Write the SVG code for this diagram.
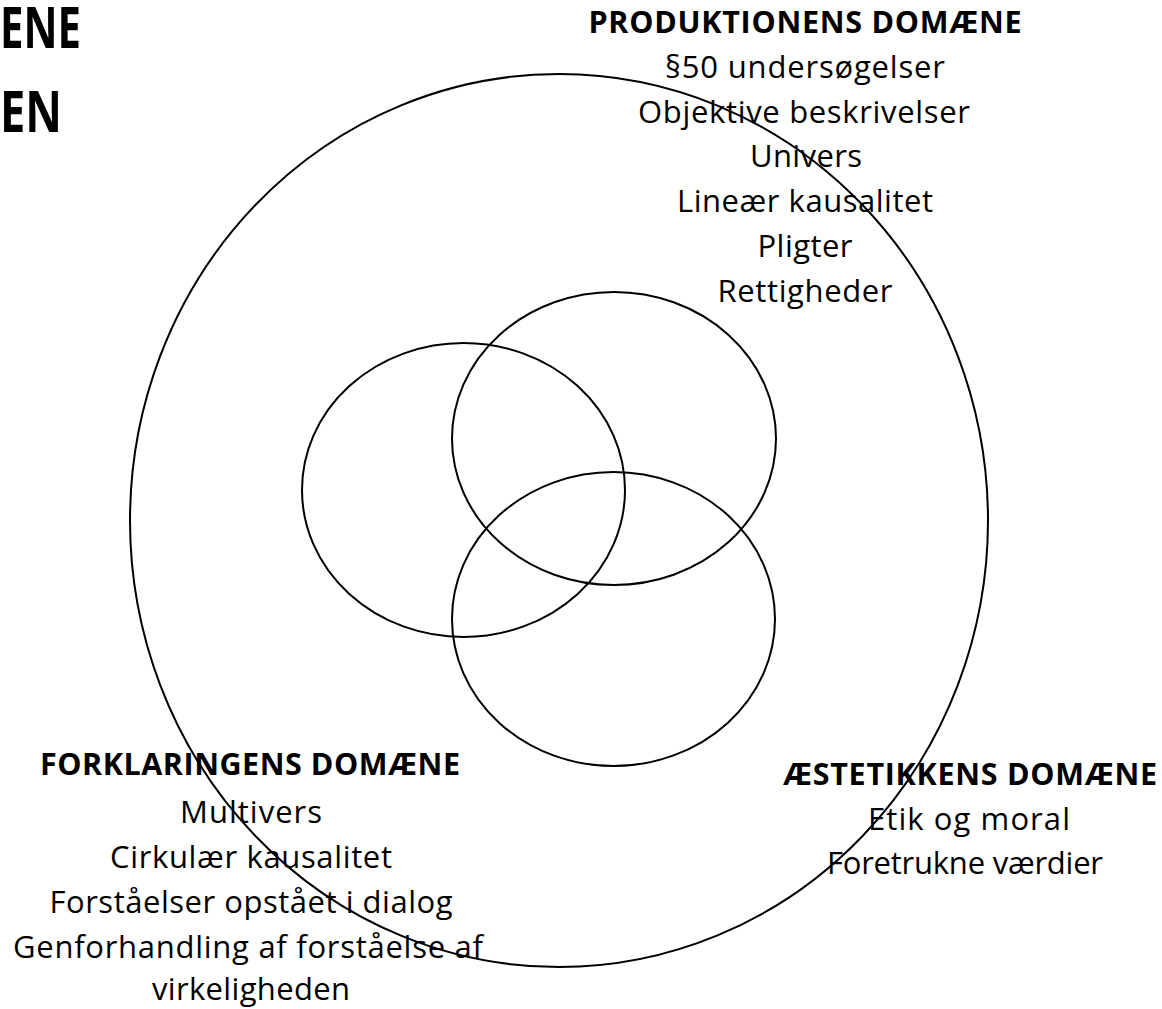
<svg xmlns="http://www.w3.org/2000/svg" width="1162" height="1009" viewBox="0 0 1162 1009">
<style>
.shape{fill:none;stroke:#000;stroke-width:2}
text{font-family:"Open Sans","Noto Sans","Liberation Sans",sans-serif;fill:#000}
.h{font-weight:bold;font-size:30.5px}
.b{font-size:31px}
.big{font-weight:bold;font-size:58px}
</style>
<rect width="1162" height="1009" fill="#fff"/>
<g id="title">
<text class="big" transform="scale(0.75,1)" x="0" y="48" textLength="108" lengthAdjust="spacingAndGlyphs">ENE</text>
<text class="big" transform="scale(0.8,1)" x="0" y="132" textLength="77.5" lengthAdjust="spacingAndGlyphs">EN</text>
</g>
<g id="connectors"></g>
<g id="outer-domain"><ellipse class="shape" cx="559" cy="520.5" rx="429" ry="446.5"/></g>
<g id="ellipse-left"><ellipse class="shape" cx="463.5" cy="490" rx="161.5" ry="147"/></g>
<g id="ellipse-top"><ellipse class="shape" cx="614" cy="438.5" rx="162" ry="146.5"/></g>
<g id="ellipse-bottom"><ellipse class="shape" cx="613.5" cy="619" rx="161.5" ry="147"/></g>
<g id="produktion" text-anchor="middle">
<text class="h" x="805" y="33" textLength="433">PRODUKTIONENS DOMÆNE</text>
<text class="b" x="805" y="78" textLength="280">§50 undersøgelser</text>
<text class="b" x="804" y="123" textLength="332">Objektive beskrivelser</text>
<text class="b" x="806" y="167" textLength="112">Univers</text>
<text class="b" x="805" y="212" textLength="256">Lineær kausalitet</text>
<text class="b" x="805" y="257" textLength="95">Pligter</text>
<text class="b" x="805" y="302" textLength="175">Rettigheder</text>
</g>
<g id="forklaring" text-anchor="middle">
<text class="h" x="250" y="775" textLength="420">FORKLARINGENS DOMÆNE</text>
<text class="b" x="251" y="823" textLength="142">Multivers</text>
<text class="b" x="251" y="868" textLength="282">Cirkulær kausalitet</text>
<text class="b" x="251" y="913" textLength="403">Forståelser opstået i dialog</text>
<text class="b" x="248" y="958" textLength="470">Genforhandling af forståelse af</text>
<text class="b" x="251" y="1000" textLength="198">virkeligheden</text>
</g>
<g id="aestetik" text-anchor="middle">
<text class="h" x="970" y="785" textLength="374">ÆSTETIKKENS DOMÆNE</text>
<text class="b" x="969" y="830" textLength="202">Etik og moral</text>
<text class="b" x="965" y="874" textLength="276">Foretrukne værdier</text>
</g>
</svg>
